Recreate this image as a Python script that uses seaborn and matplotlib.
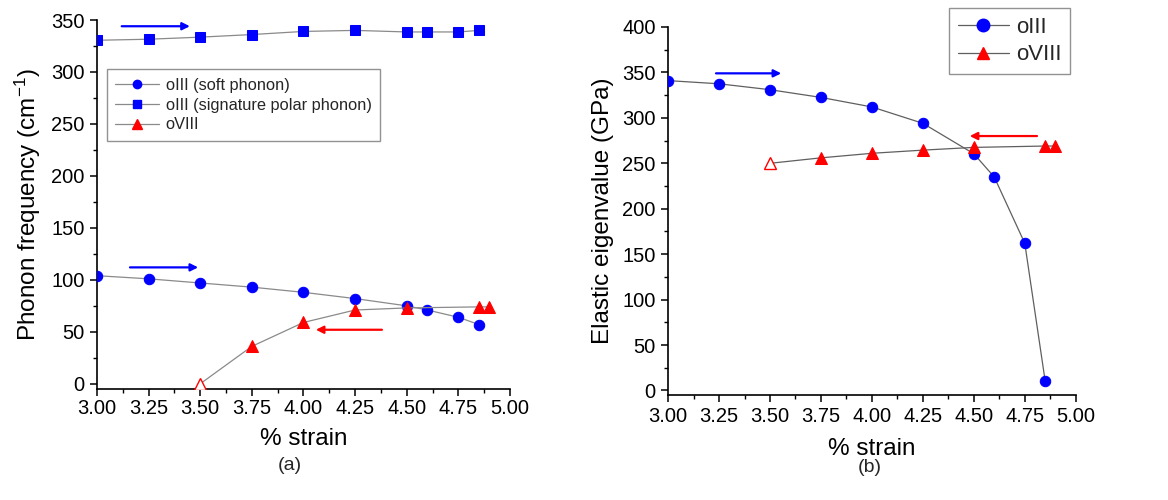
import matplotlib
matplotlib.use("Agg")
import matplotlib.pyplot as plt
import seaborn as sns
import pandas as pd
from matplotlib.lines import Line2D

# ---------------- data ----------------
strain_oIII = [3.00, 3.25, 3.50, 3.75, 4.00, 4.25, 4.50, 4.60, 4.75, 4.85]
soft_phonon = [104, 101, 97, 93, 88, 82, 75, 71, 64, 57]
polar_phonon = [330.5, 331.5, 333.5, 336, 339, 340, 338.5, 338.5, 338.5, 340]
strain_oVIII = [3.50, 3.75, 4.00, 4.25, 4.50, 4.85, 4.90]
freq_oVIII = [0, 36, 59, 71, 73, 74, 74]
elastic_oIII = [341, 337.5, 331, 322.5, 312, 294, 260.5, 235, 162, 10.5]
elastic_oVIII = [250, 256, 261, 264.5, 267.5, 269, 269]

x_ticks = [3.00, 3.25, 3.50, 3.75, 4.00, 4.25, 4.50, 4.75, 5.00]
x_ticklabels = ["3.00", "3.25", "3.50", "3.75", "4.00", "4.25", "4.50", "4.75", "5.00"]
yticks_a = [0, 50, 100, 150, 200, 250, 300, 350]
yticks_b = [0, 50, 100, 150, 200, 250, 300, 350, 400]

# arrows: (x_start, x_end, y)
arrows_a = [(3.12, 3.45, 344, "blue"), (3.16, 3.49, 112, "blue"), (4.38, 4.06, 52, "red")]
arrows_b = [(3.235, 3.555, 349, "blue"), (4.81, 4.48, 280, "red")]

legend_a = ["oIII (soft phonon)", "oIII (signature polar phonon)", "oVIII"]
legend_b = ["oIII", "oVIII"]

# ---------------- style ----------------
sns.set_theme(style="white")
plt.rcParams["font.family"] = ["Liberation Sans", "DejaVu Sans"]
plt.rcParams["mathtext.default"] = "regular"

BLUE = "#0000ff"
RED = "#ff0000"

fig = plt.figure(figsize=(11.68, 5.0), dpi=100)
axA = fig.add_axes([0.083, 0.222, 0.3536, 0.738])
axB = fig.add_axes([0.572, 0.210, 0.349, 0.736])

df_soft = pd.DataFrame({"x": strain_oIII, "y": soft_phonon})
df_polar = pd.DataFrame({"x": strain_oIII, "y": polar_phonon})
df_v_a = pd.DataFrame({"x": strain_oVIII, "y": freq_oVIII})
df_el3 = pd.DataFrame({"x": strain_oIII, "y": elastic_oIII})
df_el8 = pd.DataFrame({"x": strain_oVIII, "y": elastic_oVIII})


def draw_series(ax, df, marker, mfc, ms, lc, lw, hollow_first=False):
    n = len(df)
    every = list(range(1, n)) if hollow_first else list(range(n))
    sns.lineplot(data=df, x="x", y="y", ax=ax, sort=False, estimator=None,
                 color=lc, lw=lw, marker=marker, markersize=ms,
                 markerfacecolor=mfc, markeredgecolor=mfc, markevery=every,
                 zorder=3)
    if hollow_first:
        ax.plot(df["x"].iloc[:1], df["y"].iloc[:1], linestyle="none",
                marker=marker, markersize=ms, markerfacecolor="white",
                markeredgecolor=mfc, markeredgewidth=1.0, zorder=4)


LC_A = "#8a8a8a"
LC_B = "#5f5f5f"
draw_series(axA, df_soft, "o", BLUE, 7.5, LC_A, 0.9)
draw_series(axA, df_polar, "s", BLUE, 6.5, LC_A, 0.9)
draw_series(axA, df_v_a, "^", RED, 8, LC_A, 0.9, hollow_first=True)

draw_series(axB, df_el3, "o", BLUE, 7.5, LC_B, 0.9)
draw_series(axB, df_el8, "^", RED, 8, LC_B, 0.9, hollow_first=True)


def style_axes(ax, ylim, yticks, ylabel, xpad, xlabelpad):
    ax.set_xlim(3.0, 5.0)
    ax.set_ylim(*ylim)
    ax.set_xticks(x_ticks)
    ax.set_xticklabels(x_ticklabels)
    ax.set_yticks(yticks)
    ax.set_xticks([3.125 + 0.25 * i for i in range(8)], minor=True)
    ax.set_yticks([25 + 50 * i for i in range(len(yticks) - 1)], minor=True)
    for s in ["top", "right"]:
        ax.spines[s].set_visible(False)
    for s in ["left", "bottom"]:
        ax.spines[s].set_color("black")
        ax.spines[s].set_linewidth(1.2)
    ax.tick_params(which="major", direction="out", length=5, width=1.1,
                   colors="black", labelsize=14.5, pad=4,
                   bottom=True, left=True)
    ax.tick_params(axis="x", which="major", pad=xpad)
    ax.tick_params(which="minor", direction="out", length=3, width=1.0,
                   colors="black", bottom=True, left=True)
    ax.set_xlabel("% strain", fontsize=17.5, labelpad=xlabelpad, color="black")
    ax.set_ylabel(ylabel, fontsize=17.5, labelpad=6, color="black")
    ax.grid(False)
    ax.set_facecolor("white")


style_axes(axA, (-5, 350), yticks_a, "Phonon frequency (cm$^{-1}$)", 2.5, 7)
style_axes(axB, (-5, 400), yticks_b, "Elastic eigenvalue (GPa)", 4, 8)

for ax, arrs in [(axA, arrows_a), (axB, arrows_b)]:
    for x0, x1, y, c in arrs:
        col = BLUE if c == "blue" else RED
        ax.annotate("", xy=(x1, y), xytext=(x0, y),
                    arrowprops=dict(arrowstyle="-|>", color=col, lw=1.6,
                                    mutation_scale=11, shrinkA=0, shrinkB=0),
                    zorder=5)

# legends
hA = [Line2D([], [], color=LC_A, lw=0.9, marker="o", ms=6, mfc=BLUE, mec=BLUE),
      Line2D([], [], color=LC_A, lw=0.9, marker="s", ms=5.5, mfc=BLUE, mec=BLUE),
      Line2D([], [], color=LC_A, lw=0.9, marker="^", ms=6.5, mfc=RED, mec=RED)]
legA = axA.legend(hA, legend_a, loc="upper left", bbox_to_anchor=(0.024, 0.866),
                  fontsize=11.8, frameon=True, fancybox=False, edgecolor="#777777",
                  handlelength=2.7, handletextpad=0.4, borderpad=0.5,
                  labelspacing=0.3, borderaxespad=0)
legA.get_frame().set_linewidth(1.0)

hB = [Line2D([], [], color=LC_B, lw=0.9, marker="o", ms=9, mfc=BLUE, mec=BLUE),
      Line2D([], [], color=LC_B, lw=0.9, marker="^", ms=9, mfc=RED, mec=RED)]
legB = axB.legend(hB, legend_b, loc="upper right", bbox_to_anchor=(0.986, 1.052),
                  fontsize=16, frameon=True, fancybox=False, edgecolor="#777777",
                  handlelength=2.3, handletextpad=0.3, borderpad=0.4,
                  labelspacing=0.3, borderaxespad=0)
legB.get_frame().set_linewidth(1.0)

fig.text(0.083 + 0.3536 * 0.467, 0.068, "(a)", ha="center", va="center", fontsize=14)
fig.text(0.572 + 0.349 * 0.495, 0.066, "(b)", ha="center", va="center", fontsize=14)

fig.savefig("out.png", dpi=100, facecolor="white")
